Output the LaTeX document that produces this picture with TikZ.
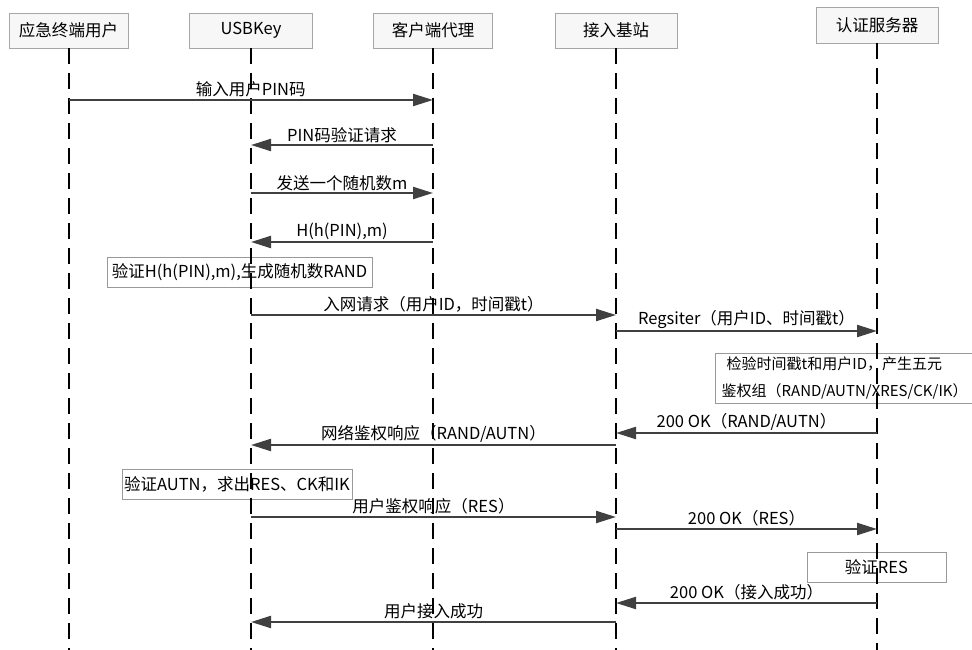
\documentclass[tikz,border=0pt]{standalone}
\usepackage{fontspec}
\setmainfont{Noto Sans CJK SC}
\usetikzlibrary{arrows.meta}

\begin{document}
\begin{tikzpicture}[
        x=1pt, y=-1pt,
        font=\fontsize{16.5}{27}\selectfont,
        actorbox/.style={rectangle, draw=gray!70, fill=gray!6, minimum width=120pt, minimum height=35pt, inner sep=0pt},
        notebox/.style={rectangle, draw=gray!80, fill=white, minimum height=30pt, inner sep=2pt},
        life/.style={line width=2pt, dash pattern=on 16pt off 9pt},
        arr/.style={-{Triangle[length=20pt, width=12pt]}, line width=2.2pt, black!75},
        lbl/.style={above, midway, inner sep=1.5pt, text=black},
    ]
        \useasboundingbox (0,0) rectangle (972,650);

        % Participants
        \node[actorbox, minimum width=119pt] (user) at (68.5,30.5) {应急终端用户};
        \node[actorbox, minimum width=123pt] (usb) at (251,30.5) {USBKey};
        \node[actorbox, minimum width=119pt] (agent) at (433,30.5) {客户端代理};
        \node[actorbox, minimum width=122pt] (bs) at (616,30.5) {接入基站};
        \node[actorbox, minimum width=122pt, minimum height=36pt] (auth) at (877,25) {认证服务器};
        \coordinate (bottom) at (0,655);

        % Local processing boxes
        \node[notebox, minimum width=265pt] (chk1) at (239.5,272) {验证H(h(PIN),m),生成随机数RAND};
        \node[notebox, anchor=north west, minimum width=275pt, minimum height=50pt, text width=262pt, align=left, inner xsep=2pt, inner ysep=4pt, font=\fontsize{15}{27}\selectfont] (chk2) at (715,353) {\ 检验时间戳t和用户ID，产生五元\\鉴权组（RAND/AUTN/XRES/CK/IK）};
        \node[notebox, minimum width=230pt] (chk3) at (237,484) {验证AUTN，求出RES、CK和IK};
        \node[notebox, minimum width=139pt] (chk4) at (876.5,567) {验证RES};

        % Lifelines
        \draw[life] (user.south) -- (user |- bottom);
        \draw[life] (usb.south) -- (usb |- bottom);
        \draw[life] (agent.south) -- (agent |- bottom);
        \draw[life] (bs.south) -- (bs |- bottom);
        \draw[life] (auth.south) -- (auth |- bottom);

        % Message rows
        \coordinate (r1) at (0,100);
        \coordinate (r2) at (0,145);
        \coordinate (r3) at (0,193);
        \coordinate (r4) at (0,242);
        \coordinate (r5) at (0,315);
        \coordinate (r6) at (0,331);
        \coordinate (r7) at (0,433);
        \coordinate (r8) at (0,445);
        \coordinate (r9) at (0,517);
        \coordinate (r10) at (0,529);
        \coordinate (r11) at (0,603);
        \coordinate (r12) at (0,622);

        % PIN verification
        \draw[arr] (user |- r1) -- (agent |- r1) node[lbl] {输入用户PIN码};
        \draw[arr] (agent |- r2) -- (usb |- r2) node[lbl] {PIN码验证请求};
        \draw[arr] (usb |- r3) -- (agent |- r3) node[lbl] {发送一个随机数m};
        \draw[arr] (agent |- r4) -- (usb |- r4) node[lbl] {H(h(PIN),m)};

        % Network access and authentication
        \draw[arr] (usb |- r5) -- (bs |- r5) node[lbl] {入网请求（用户ID，时间戳t）};
        \draw[arr] (bs |- r6) -- (auth |- r6) node[lbl] {Regsiter（用户ID、时间戳t）};
        \draw[arr] (auth |- r7) -- (bs |- r7) node[lbl] {200 OK（RAND/AUTN）};
        \draw[arr] (bs |- r8) -- (usb |- r8) node[lbl] {网络鉴权响应（RAND/AUTN）};
        \draw[arr] (usb |- r9) -- (bs |- r9) node[lbl] {用户鉴权响应（RES）};
        \draw[arr] (bs |- r10) -- (auth |- r10) node[lbl] {200 OK（RES）};
        \draw[arr] (auth |- r11) -- (bs |- r11) node[lbl] {200 OK（接入成功）};
        \draw[arr] (bs |- r12) -- (usb |- r12) node[lbl] {用户接入成功};
    \end{tikzpicture}
\end{document}
